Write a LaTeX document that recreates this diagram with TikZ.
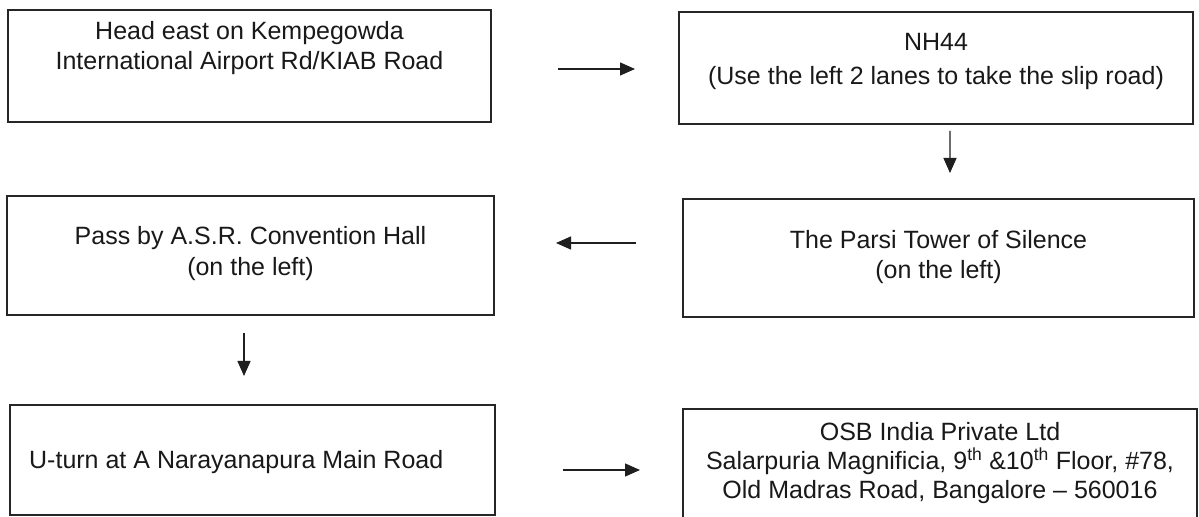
\documentclass[tikz,border=0pt]{standalone}
\usepackage{fontspec}
\setmainfont{Liberation Sans}
\usetikzlibrary{arrows.meta}
\begin{document}
\begin{tikzpicture}[x=1bp,y=-1bp,
  box/.style={draw=black!85, line width=1.2bp, inner sep=0pt, outer sep=0pt},
  txt/.style={align=center, inner sep=0pt, text=black!90, font={\fontsize{25bp}{30bp}\selectfont}},
  arr/.style={draw=black!88, line width=1.3bp, -{Triangle[length=15bp,width=13bp]}}]
\useasboundingbox (0,0) rectangle (1199,517);
\fill[white] (0,0) rectangle (1199,517);
\clip (0,0) rectangle (1199,517);

% boxes
\node[box, minimum width=483bp, minimum height=112bp] (b1) at (249.5,66) {};
\node[box, minimum width=514bp, minimum height=112bp] (b2) at (936,68) {};
\node[box, minimum width=487bp, minimum height=119bp] (b3) at (250.5,255.5) {};
\node[box, minimum width=511bp, minimum height=118bp] (b4) at (938.5,258) {};
\node[box, minimum width=485bp, minimum height=110bp] (b5) at (252.5,460) {};
\node[box, minimum width=514bp, minimum height=131bp] (b6) at (940,474.5) {};

% texts
\node[txt] (t1) at (249.5,48) {Head east on Kempegowda\\International Airport Rd/KIAB Road};
\node[txt] (t2) at (936,61) {NH44\\[4bp](Use the left 2 lanes to take the slip road)};
\node[txt] (t3) at (250.5,253.5) {Pass by A.S.R. Convention Hall\\[1bp](on the left)};
\node[txt] (t4) at (938.5,257) {The Parsi Tower of Silence\\(on the left)};
\node[txt, anchor=west] (t5) at (29,462) {U-turn at A Narayanapura Main Road};
\node[txt] (t6) at (940,463) {OSB India Private Ltd\\[-1bp]Salarpuria Magnificia, 9\textsuperscript{th} \&10\textsuperscript{th} Floor, \#78,\\[-1bp]Old Madras Road, Bangalore – 560016};

% connectors
\draw[arr] ([shift={(67,3)}]b1.east) -- ([shift={(-44,1)}]b2.west);
\draw[arr] ([shift={(14,7)}]b2.south) -- ([shift={(11.5,-26)}]b4.north);
\draw[arr] ([shift={(-47,-15)}]b4.west) -- ([shift={(62,-12.5)}]b3.east);
\draw[arr] ([shift={(-6.5,18)}]b3.south) -- ([shift={(-8.5,-29)}]b5.north);
\draw[arr] ([shift={(68,10)}]b5.east) -- ([shift={(-43,-4.5)}]b6.west);
\end{tikzpicture}
\end{document}
